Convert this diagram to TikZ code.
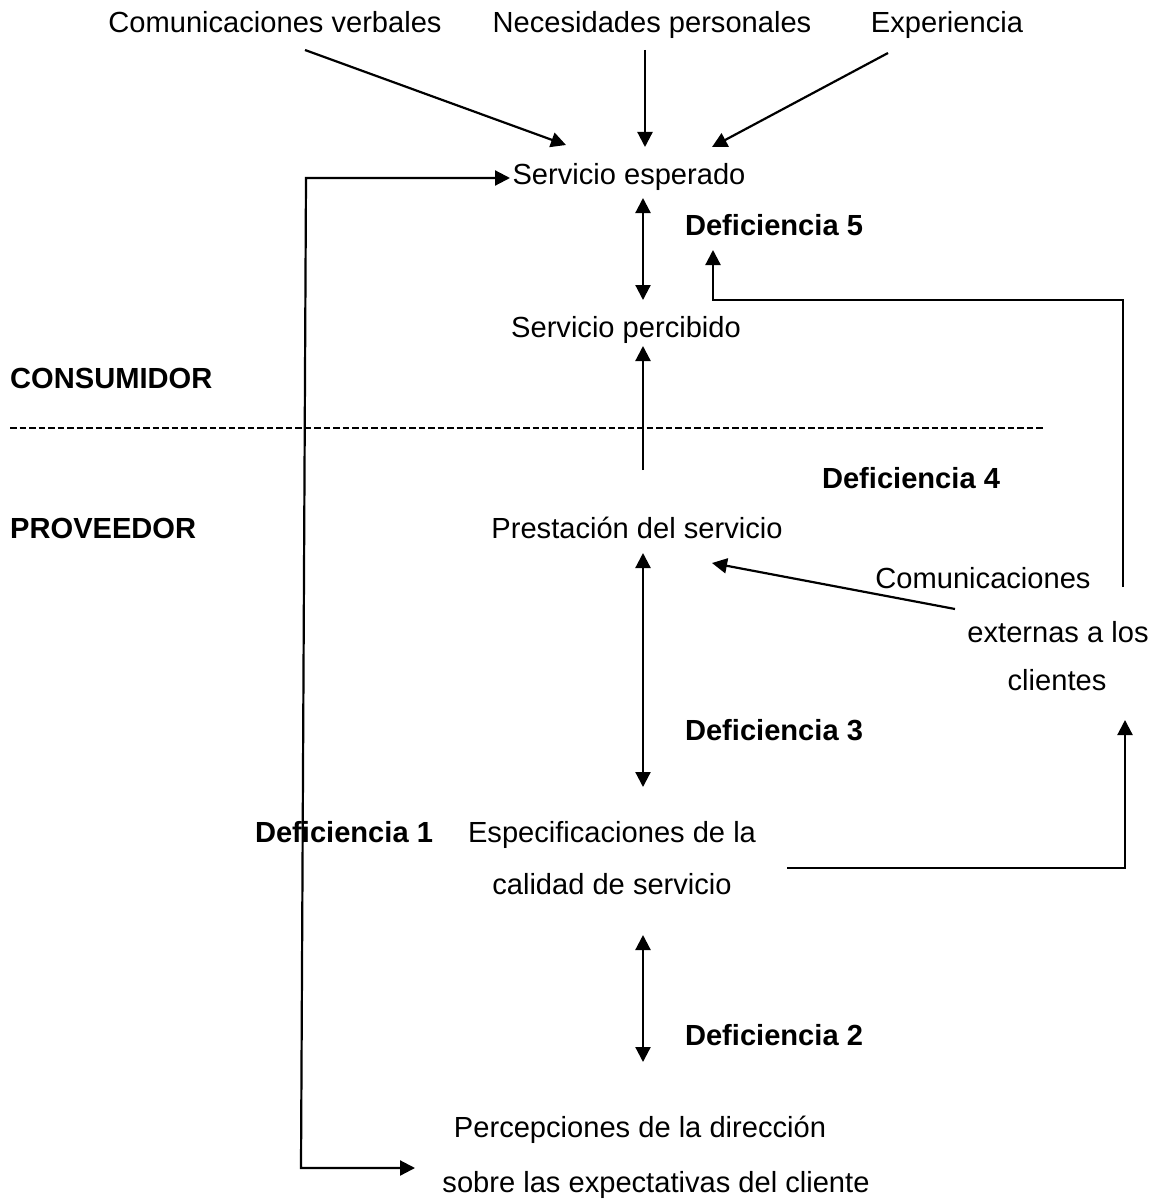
\documentclass[tikz,border=0pt]{standalone}
\usepackage{fontspec}
\setmainfont{Liberation Sans}
\usetikzlibrary{arrows.meta}
\begin{document}
\begin{tikzpicture}[x=1pt,y=-1pt,
  lbl/.style={inner sep=0pt,anchor=base,font=\fontsize{29.1}{34}\selectfont},
  blbl/.style={lbl,font=\fontsize{29.1}{34}\selectfont\bfseries},
  tip/.style={Triangle[length=15pt,width=15pt]},
  conn/.style={line width=2.2pt,-{Triangle[length=15pt,width=15pt]}},
  dconn/.style={line width=2.2pt,{Triangle[length=15pt,width=15pt]}-{Triangle[length=15pt,width=15pt]}}]
\useasboundingbox (0,0) rectangle (1154,1201);

% consumer side
\node[lbl] (cv) at (275,33) {Comunicaciones verbales};
\node[lbl] (np) at (652,33) {Necesidades personales};
\node[lbl] (ex) at (947,33) {Experiencia};
\node[lbl] (se) at (629,185) {Servicio esperado};
\node[blbl] (d5) at (774,235) {Deficiencia 5};
\node[lbl] (sp) at (626,337) {Servicio percibido};
\node[blbl,anchor=base west] (cons) at (10,388) {CONSUMIDOR};

% boundary between consumer and provider
\coordinate (dl) at (10,428);
\coordinate (dr) at (1045,428);
\draw[line width=2.6pt,dash pattern=on 6.5pt off 3pt] (dl) -- (dr);

% provider side
\node[blbl] (d4) at (911,488) {Deficiencia 4};
\node[blbl,anchor=base west] (prov) at (10,538) {PROVEEDOR};
\node[lbl] (ps) at (637,538) {Prestación del servicio};
\node[lbl] (cx1) at (983,588) {Comunicaciones};
\node[lbl] (cx2) at (1058,642) {externas a los};
\node[lbl] (cx3) at (1057,690) {clientes};
\node[blbl] (d3) at (774,740) {Deficiencia 3};
\node[blbl] (d1) at (344,842) {Deficiencia 1};
\node[lbl] (es1) at (612,842) {Especificaciones de la};
\node[lbl] (es2) at (612,894) {calidad de servicio};
\node[blbl] (d2) at (774,1045) {Deficiencia 2};
\node[lbl] (pd1) at (640,1137) {Percepciones de la dirección};
\node[lbl] (pd2) at (656,1192) {sobre las expectativas del cliente};

% inputs to the expected service
\coordinate (cvo) at (305,50);
\coordinate (cvi) at (566,145);
\coordinate (npo) at (645,50);
\coordinate (npi) at (645,147);
\coordinate (exo) at (888,53);
\coordinate (exi) at (712,147);
\draw[conn] (cvo) -- (cvi);
\draw[conn] (npo) -- (npi);
\draw[conn] (exo) -- (exi);

% gap 5
\coordinate (g5a) at (643,198);
\coordinate (g5b) at (643,300);
\draw[dconn] (g5a) -- (g5b);

% external communications feeding expectations
\coordinate (c5t) at (713,250);
\coordinate (c5c) at (713,300);
\coordinate (c5r) at (1123,300);
\coordinate (c5b) at (1123,587);
\draw[conn] (c5b) -- (c5r) -- (c5c) -- (c5t);

% delivery to perceived service
\coordinate (psu) at (643,470);
\coordinate (spd) at (643,346);
\draw[conn] (psu) -- (spd);

% gap 3
\coordinate (g3a) at (643,553);
\coordinate (g3b) at (643,787);
\draw[dconn] (g3a) -- (g3b);

% communications to delivery
\coordinate (cxo) at (955,609);
\coordinate (psi) at (712,563);
\draw[conn] (cxo) -- (psi);

% specifications to external communications
\coordinate (esr) at (787,868);
\coordinate (esc) at (1125,868);
\coordinate (cxi) at (1125,720);
\draw[conn] (esr) -- (esc) -- (cxi);

% gap 2
\coordinate (g2a) at (643,935);
\coordinate (g2b) at (643,1062);
\draw[dconn] (g2a) -- (g2b);

% gap 1 loop between expected service and management perceptions
\coordinate (l1) at (510,178);
\coordinate (l2) at (306,178);
\coordinate (l3) at (301,1168);
\coordinate (l4) at (415,1168);
\draw[dconn] (l1) -- (l2) -- (l3) -- (l4);
\end{tikzpicture}
\end{document}
